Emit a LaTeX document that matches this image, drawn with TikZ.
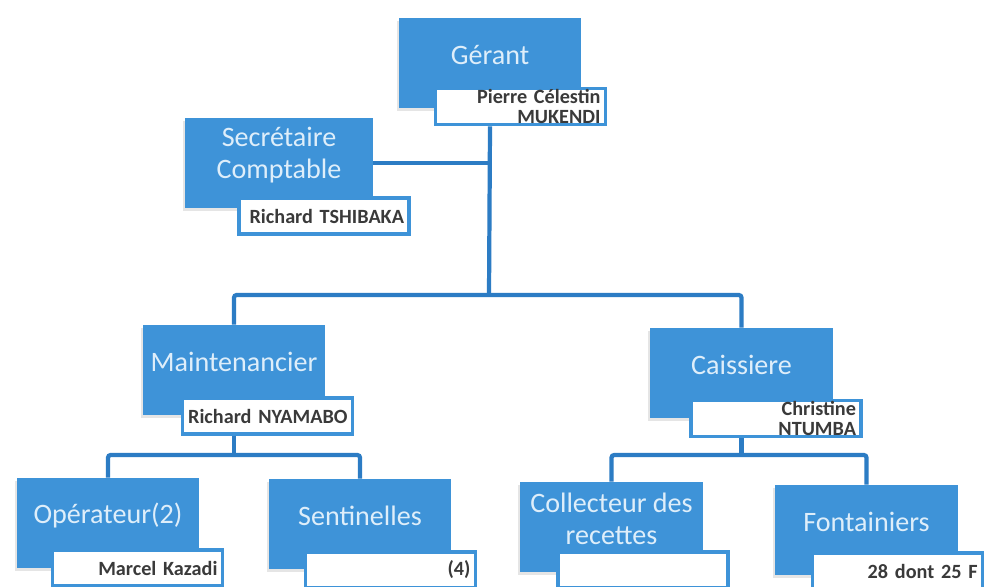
\documentclass[tikz,border=0pt]{standalone}
\usepackage{fontspec}
\setmainfont{Carlito}
\usetikzlibrary{positioning,shadows}
\definecolor{roleBlue}{RGB}{62,147,216}
\definecolor{linkBlue}{RGB}{44,124,196}
\definecolor{roleText}{RGB}{222,238,250}
\definecolor{nameText}{RGB}{58,58,58}

\tikzset{
  role/.style={fill=roleBlue, minimum width=3.66cm, minimum height=1.8cm, inner sep=0pt,
    drop shadow={shadow xshift=-1pt, shadow yshift=-1.5pt, opacity=0.2}},
  roleLabel/.style={text=roleText, font=\fontsize{16}{18}\selectfont, align=center, yshift=0.16cm},
  personBox/.style={draw=roleBlue, line width=2pt, fill=white, text width=3.2cm,
    inner xsep=0.1cm, inner ysep=0.5pt, minimum height=0.72cm, align=right,
    font=\fontsize{11.5}{11.5}\selectfont\bfseries, text=nameText},
  link/.style={draw=linkBlue, line width=2.4pt, rounded corners=1.5pt}
}

\begin{document}
\begin{tikzpicture}[x=0.02cm,y=-0.02cm]

\fill[white] (0,0) rectangle (986,586);
\useasboundingbox (0,0) rectangle (986,586);
\clip (0,0) rectangle (986,586);

% top of the chart
\node[role, label={[roleLabel]center:G\'erant}] (gerant) at (490,63) {};
\node[personBox] (gerantName) at (520.5,106.5) {Pierre C\'elestin\\MUKENDI};

\node[role, minimum width=3.76cm, label={[roleLabel]center:Secr\'etaire\\Comptable}] (secr) at (279,163) {};
\node[personBox] (secrName) at (324,216) {Richard TSHIBAKA};

% second level
\node[role, label={[roleLabel]center:Maintenancier}] (maint) at (234,370) {};
\node[personBox] (maintName) at (267.5,416) {Richard NYAMABO};

\node[role, label={[roleLabel]center:Caissiere}] (caiss) at (741.5,373) {};
\node[personBox] (caissName) at (776,418.5) {Christine\\NTUMBA};

% bottom level
\node[role, label={[roleLabel]center:Op\'erateur(2)}] (oper) at (108,523) {};
\node[personBox] (operName) at (137.5,568) {Marcel Kazadi};

\node[role, label={[roleLabel]center:Sentinelles}] (sent) at (360,524) {};
\node[personBox] (sentName) at (390.5,570) {(4)};

\node[role, label={[roleLabel]center:Collecteur des\\recettes}] (coll) at (611.5,527) {};
\node[personBox] (collName) at (643,570) {};

\node[role, label={[roleLabel]center:Fontainiers}] (fontain) at (866.5,530) {};
\node[personBox] (fontainName) at (897.5,571) {28 dont 25 F};

% the lines
\coordinate (topBus) at (489,295);
\coordinate (maintBus) at (234,455);
\coordinate (caissBus) at (741.5,455);

\draw[link] (gerantName.south -| gerant.south) -- (topBus);
\draw[link] (secr.east) -- (secr.east -| topBus);
\draw[link] (maint.north) |- (topBus) -| (caiss.north);

\draw[link] (maintName.south -| maint.south) -- (maintBus);
\draw[link] (oper.north) |- (maintBus) -| (sent.north);

\draw[link] (caissName.south -| caiss.south) -- (caissBus);
\draw[link] (coll.north) |- (caissBus) -| (fontain.north);

\end{tikzpicture}
\end{document}
